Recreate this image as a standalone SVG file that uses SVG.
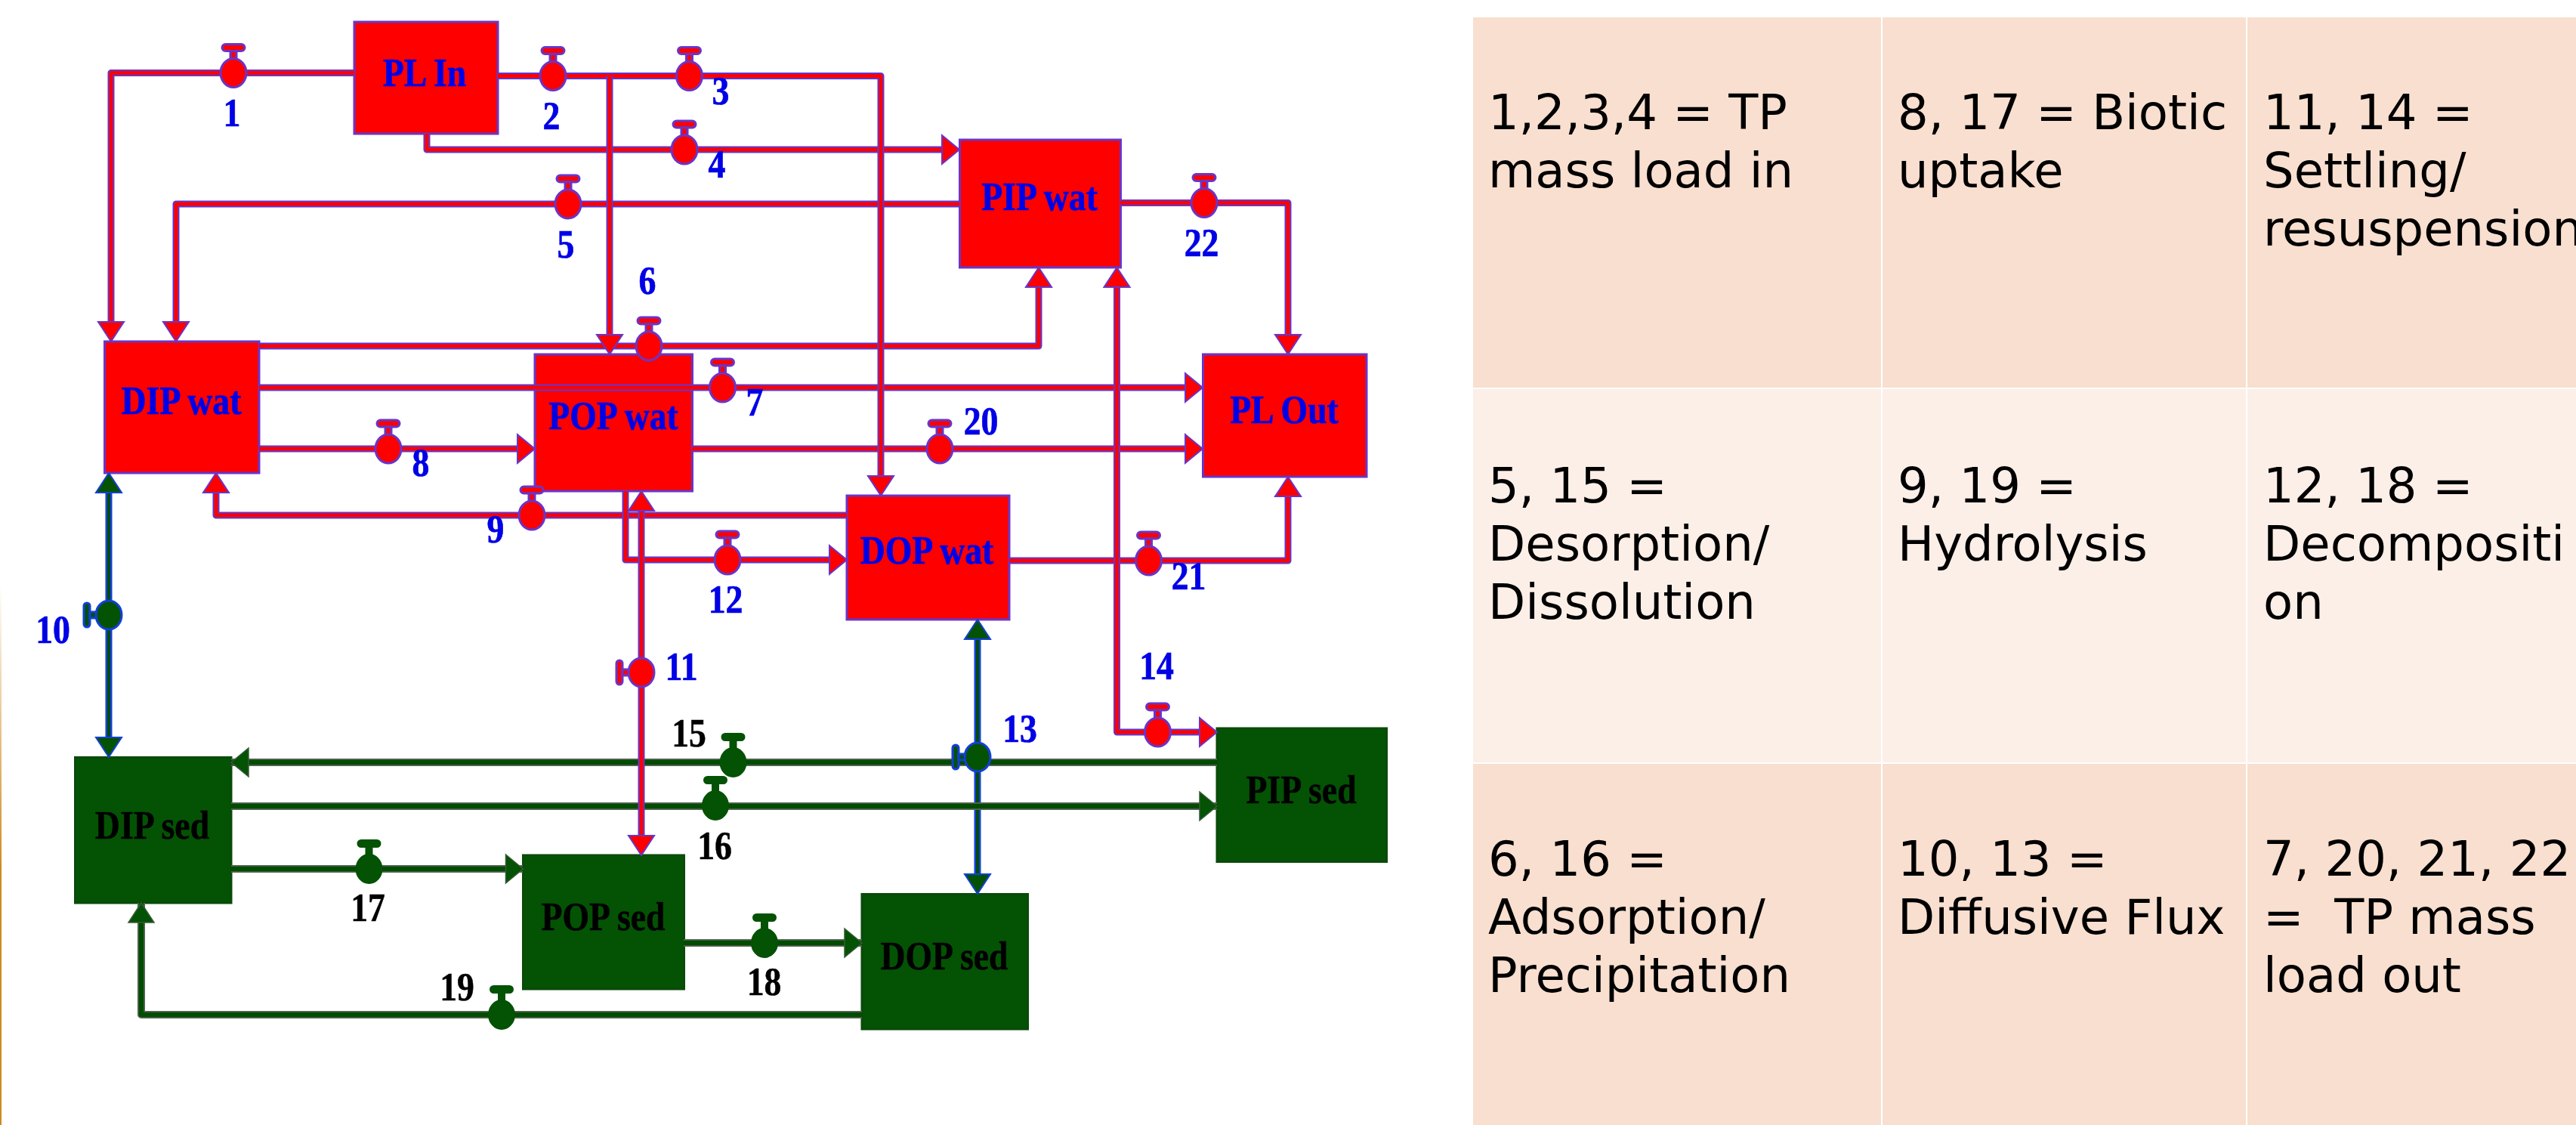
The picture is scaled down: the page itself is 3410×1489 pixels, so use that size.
<svg xmlns="http://www.w3.org/2000/svg" width="3410" height="1489" viewBox="0 0 3410 1489">
<style>
.box{stroke-width:3}
.rb{fill:#f00;stroke:#6a35c8}
.gb{fill:#045204;stroke:#0a4a0a}
text{font-family:"Liberation Serif","Times New Roman",serif;font-weight:bold;font-size:52px;text-anchor:middle}
.bl{fill:#0000e6;stroke:#0000e6;stroke-width:.7}
.bk{fill:#000;stroke:#000;stroke-width:.5}
.o,.i{fill:none;stroke-linejoin:round}
.o{stroke-width:9}
.i{stroke-width:5}
.or{stroke:#6038d0}
.ir{stroke:#f00}
.og{stroke:#5a645a;stroke-width:10}
.ig{stroke:#004c00;stroke-width:6.500}
.ob{stroke:#1240d8}
.ar{fill:#f00;stroke:#6a35c8;stroke-width:2}
.ag{fill:#045204;stroke:#3a5a3a;stroke-width:1.500}
.ab{fill:#045204;stroke:#1240d8;stroke-width:2}
.vr{fill:#f00;stroke:#6a35c8;stroke-width:3}
.vg{fill:#045204;stroke:#045204;stroke-width:2}
.vb{fill:#045204;stroke:#1240d8;stroke-width:3}
.cd{fill:#f8dfcf}
.cl{fill:#fcefe8}
.tt{font-family:"DejaVu Sans",Verdana,sans-serif;font-weight:normal;font-size:64px;text-anchor:start;fill:#000;stroke:none;white-space:pre}
</style>
<defs>
<linearGradient id="edge" x1="0" y1="775" x2="0" y2="1150" gradientUnits="userSpaceOnUse"><stop offset="0" stop-color="#d08a1e" stop-opacity="0"/><stop offset="1" stop-color="#d08a1e"/></linearGradient>
<polygon id="aR" points="0,0 -23,-19 -23,19"/>
<polygon id="aL" points="0,0 23,-19 23,19"/>
<polygon id="aU" points="0,0 -17,26 17,26"/>
<polygon id="aD" points="0,0 -17,-26 17,-26"/>
<g id="vT"><rect x="-15" y="-38" width="30" height="9" rx="4.500"/><rect x="-4" y="-29" width="8" height="12"/><ellipse cx="0" cy="0" rx="17" ry="19"/></g>
<g id="vS"><rect x="-33" y="-16" width="8" height="32" rx="4"/><rect x="-25" y="-4" width="10" height="8"/><ellipse cx="0" cy="0" rx="17" ry="19"/></g>
</defs>
<rect width="3410" height="1489" fill="#fff"/>
<rect x="0" y="775" width="2" height="714" fill="url(#edge)"/>

<g id="nodes">
<g id="pl-in"><rect class="box rb" x="469" y="29" width="190" height="148"/><text class="bl" transform="translate(562,114) scale(.88,1)">PL In</text></g>
<g id="dip-wat"><rect class="box rb" x="138.500" y="452" width="204.500" height="174"/><text class="bl" transform="translate(240,548) scale(.88,1)">DIP wat</text></g>
<g id="pop-wat"><rect class="box rb" x="708" y="469" width="208.500" height="181"/><text class="bl" transform="translate(812,568) scale(.88,1)">POP wat</text></g>
<g id="pip-wat"><rect class="box rb" x="1270.500" y="185" width="213" height="169"/><text class="bl" transform="translate(1376,278) scale(.88,1)">PIP wat</text></g>
<g id="pl-out"><rect class="box rb" x="1592.500" y="469" width="216.500" height="162"/><text class="bl" transform="translate(1700,560) scale(.88,1)">PL Out</text></g>
<g id="dop-wat"><rect class="box rb" x="1121" y="656" width="215" height="164"/><text class="bl" transform="translate(1227,746) scale(.88,1)">DOP wat</text></g>
<g id="dip-sed"><rect class="box gb" x="99.500" y="1002.500" width="206.500" height="192.500"/><text class="bk" transform="translate(201.500,1110) scale(.88,1)">DIP sed</text></g>
<g id="pop-sed"><rect class="box gb" x="692.500" y="1132" width="213" height="177"/><text class="bk" transform="translate(798.500,1231) scale(.88,1)">POP sed</text></g>
<g id="dop-sed"><rect class="box gb" x="1141" y="1183.500" width="219.500" height="178.500"/><text class="bk" transform="translate(1250,1283) scale(.88,1)">DOP sed</text></g>
<g id="pip-sed"><rect class="box gb" x="1611" y="964" width="224.500" height="176.500"/><text class="bk" transform="translate(1722.500,1063) scale(.88,1)">PIP sed</text></g>
</g>

<g id="connectors">
<path class="o og" d="M1611,1009H306"/><path class="i ig" d="M1611,1009H306"/>
<path class="o og" d="M306,1150H692"/><path class="i ig" d="M306,1150H692"/>
<path class="o og" d="M905,1248H1141"/><path class="i ig" d="M905,1248H1141"/>
<path class="o og" d="M1141,1343H187V1195"/><path class="i ig" d="M1141,1343H187V1195"/>
<path class="o ob" d="M144,640V985"/><path class="i ig" d="M144,640V985" style="stroke-width:4"/>
<path class="o ob" d="M1294,834V1170"/><path class="i ig" d="M1294,834V1170" style="stroke-width:4"/>
<path class="o og" d="M306,1067H1611"/><path class="i ig" d="M306,1067H1611"/>
<path class="o or" d="M469,96.500H147V440"/><path class="i ir" d="M469,96.500H147V440"/>
<path class="o or" d="M1270,270H233V440"/><path class="i ir" d="M1270,270H233V440"/>
<path class="o or" d="M565,177V198H1255"/><path class="i ir" d="M565,177V198H1255"/>
<path class="o or" d="M343,458H1375V370"/><path class="i ir" d="M343,458H1375V370"/>
<path class="o or" d="M343,513H1580"/><path class="i ir" d="M343,513H1580"/>
<path class="o or" d="M343,594H695"/><path class="i ir" d="M343,594H695"/>
<path class="o or" d="M916,594H1580"/><path class="i ir" d="M916,594H1580"/>
<path class="o or" d="M1121,682H286V640"/><path class="i ir" d="M1121,682H286V640"/>
<path class="o or" d="M828,650V741H1108"/><path class="i ir" d="M828,650V741H1108"/>
<path class="o or" d="M1336,742H1705V645"/><path class="i ir" d="M1336,742H1705V645"/>
<path class="o or" d="M1483,268.500H1705V455"/><path class="i ir" d="M1483,268.500H1705V455"/>
<path class="o or" d="M1478.500,368V969H1598"/><path class="i ir" d="M1478.500,368V969H1598"/>
<path class="o or" d="M849,664V1118"/><path class="i ir" d="M849,664V1118"/>
<path class="o or" d="M659,100.500H1166V642"/><path class="i ir" d="M659,100.500H1166V642"/>
<path class="o or" d="M807,100.500V455"/><path class="i ir" d="M807,100.500V455"/>
<use href="#aD" class="ar" x="147" y="452"/>
<use href="#aD" class="ar" x="233" y="452"/>
<use href="#aD" class="ar" x="807" y="469"/>
<use href="#aD" class="ar" x="1166" y="656"/>
<use href="#aD" class="ar" x="1705" y="469"/>
<use href="#aD" class="ar" x="849" y="1132"/>
<use href="#aU" class="ar" x="286" y="626"/>
<use href="#aU" class="ar" x="849" y="650"/>
<use href="#aU" class="ar" x="1375" y="354"/>
<use href="#aU" class="ar" x="1478.500" y="354"/>
<use href="#aU" class="ar" x="1705" y="631"/>
<use href="#aR" class="ar" x="1270" y="198"/>
<use href="#aR" class="ar" x="708" y="594"/>
<use href="#aR" class="ar" x="1592" y="513"/>
<use href="#aR" class="ar" x="1592" y="594"/>
<use href="#aR" class="ar" x="1121" y="741"/>
<use href="#aR" class="ar" x="1611" y="969"/>
<use href="#aL" class="ag" x="306" y="1009"/>
<use href="#aR" class="ag" x="1611" y="1067"/>
<use href="#aR" class="ag" x="692.500" y="1150"/>
<use href="#aR" class="ag" x="1141" y="1248"/>
<use href="#aU" class="ag" x="187" y="1195"/>
<use href="#aU" class="ab" x="144" y="626"/>
<use href="#aD" class="ab" x="144" y="1002"/>
<use href="#aU" class="ab" x="1294" y="820"/>
<use href="#aD" class="ab" x="1294" y="1183"/>
</g>

<g id="v1"><use href="#vT" class="vr" x="309" y="96.500"/><text class="bl" transform="translate(307,167) scale(.88,1)">1</text></g>
<g id="v2"><use href="#vT" class="vr" x="732" y="100.500"/><text class="bl" transform="translate(730,171) scale(.88,1)">2</text></g>
<g id="v3"><use href="#vT" class="vr" x="912.500" y="100.500"/><text class="bl" transform="translate(954,138) scale(.88,1)">3</text></g>
<g id="v4"><use href="#vT" class="vr" x="906" y="198"/><text class="bl" transform="translate(949,235) scale(.88,1)">4</text></g>
<g id="v5"><use href="#vT" class="vr" x="752" y="270"/><text class="bl" transform="translate(749,340.500) scale(.88,1)">5</text></g>
<g id="v6"><use href="#vT" class="vr" x="859" y="458"/><text class="bl" transform="translate(857,388.500) scale(.88,1)">6</text></g>
<g id="v7"><use href="#vT" class="vr" x="956.500" y="513"/><text class="bl" transform="translate(999,550) scale(.88,1)">7</text></g>
<g id="v8"><use href="#vT" class="vr" x="514" y="594"/><text class="bl" transform="translate(557,630) scale(.88,1)">8</text></g>
<g id="v9"><use href="#vT" class="vr" x="704" y="682"/><text class="bl" transform="translate(656,718) scale(.88,1)">9</text></g>
<g id="v10"><use href="#vS" class="vb" x="144" y="814"/><text class="bl" transform="translate(70,851) scale(.88,1)">10</text></g>
<g id="v11"><use href="#vS" class="vr" x="849" y="890"/><text class="bl" transform="translate(902,900) scale(.88,1)">11</text></g>
<g id="v12"><use href="#vT" class="vr" x="963" y="741"/><text class="bl" transform="translate(960.500,811) scale(.88,1)">12</text></g>
<g id="v13"><use href="#vS" class="vb" x="1294" y="1002"/><text class="bl" transform="translate(1350,982) scale(.88,1)">13</text></g>
<g id="v14"><use href="#vT" class="vr" x="1532.500" y="969"/><text class="bl" transform="translate(1531,899) scale(.88,1)">14</text></g>
<g id="v15"><use href="#vT" class="vg" x="970.500" y="1009"/><text class="bk" transform="translate(912,988) scale(.88,1)">15</text></g>
<g id="v16"><use href="#vT" class="vg" x="947" y="1066"/><text class="bk" transform="translate(946,1137) scale(.88,1)">16</text></g>
<g id="v17"><use href="#vT" class="vg" x="488.500" y="1150"/><text class="bk" transform="translate(487,1219) scale(.88,1)">17</text></g>
<g id="v18"><use href="#vT" class="vg" x="1012" y="1248"/><text class="bk" transform="translate(1011.500,1317) scale(.88,1)">18</text></g>
<g id="v19"><use href="#vT" class="vg" x="664" y="1343"/><text class="bk" transform="translate(605,1323.500) scale(.88,1)">19</text></g>
<g id="v20"><use href="#vT" class="vr" x="1244" y="594"/><text class="bl" transform="translate(1298.500,575) scale(.88,1)">20</text></g>
<g id="v21"><use href="#vT" class="vr" x="1520.500" y="742"/><text class="bl" transform="translate(1573.500,780) scale(.88,1)">21</text></g>
<g id="v22"><use href="#vT" class="vr" x="1594" y="268.500"/><text class="bl" transform="translate(1590.500,338.500) scale(.88,1)">22</text></g>

<g id="legend">
<rect class="cd" x="1950" y="23" width="540" height="490"/>
<rect class="cd" x="2492" y="23" width="481" height="490"/>
<rect class="cd" x="2975" y="23" width="435" height="490"/>
<rect class="cl" x="1950" y="515" width="540" height="494"/>
<rect class="cl" x="2492" y="515" width="481" height="494"/>
<rect class="cl" x="2975" y="515" width="435" height="494"/>
<rect class="cd" x="1950" y="1011" width="540" height="478"/>
<rect class="cd" x="2492" y="1011" width="481" height="478"/>
<rect class="cd" x="2975" y="1011" width="435" height="478"/>
<text class="tt" x="1970" y="171">1,2,3,4 = TP</text>
<text class="tt" x="1970" y="248">mass load in</text>
<text class="tt" x="2512" y="171">8, 17 = Biotic</text>
<text class="tt" x="2512" y="248">uptake</text>
<text class="tt" x="2996" y="171">11, 14 =</text>
<text class="tt" x="2996" y="248">Settling/</text>
<text class="tt" x="2996" y="325">resuspension</text>
<text class="tt" x="1970" y="665">5, 15 =</text>
<text class="tt" x="1970" y="742">Desorption/</text>
<text class="tt" x="1970" y="819">Dissolution</text>
<text class="tt" x="2512" y="665">9, 19 =</text>
<text class="tt" x="2512" y="742">Hydrolysis</text>
<text class="tt" x="2996" y="665">12, 18 =</text>
<text class="tt" x="2996" y="742">Decompositi</text>
<text class="tt" x="2996" y="819">on</text>
<text class="tt" x="1970" y="1159">6, 16 =</text>
<text class="tt" x="1970" y="1236">Adsorption/</text>
<text class="tt" x="1970" y="1313">Precipitation</text>
<text class="tt" x="2512" y="1159">10, 13 =</text>
<text class="tt" x="2512" y="1236">Diffusive Flux</text>
<text class="tt" x="2996" y="1159">7, 20, 21, 22</text>
<text class="tt" x="2996" y="1236">=  TP mass</text>
<text class="tt" x="2996" y="1313">load out</text>
</g>
</svg>
